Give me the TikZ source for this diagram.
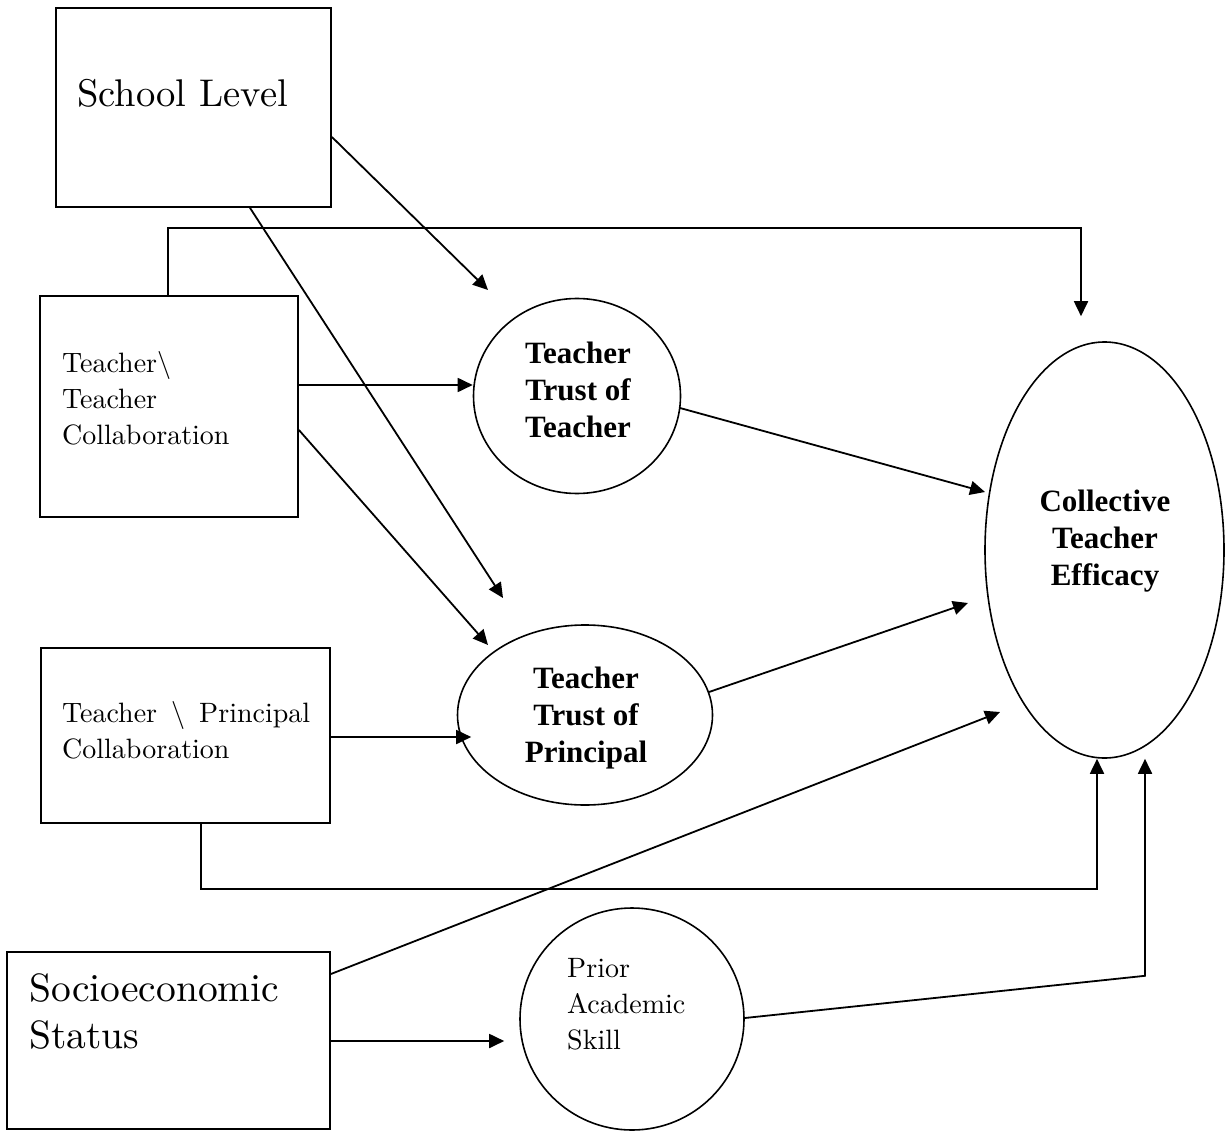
\documentclass[tikz,border=0pt]{standalone}
\usepackage{fontspec}
\newfontfamily\tnrfont{Liberation Serif}
\newfontfamily\gfont{lmroman10-regular.otf}
\usetikzlibrary{shapes.geometric,arrows.meta,calc}
\begin{document}
\begin{tikzpicture}[x=1pt,y=-1pt,
  box/.style={draw,line width=1.8pt,rectangle,inner sep=0pt},
  oval/.style={draw,line width=1.6pt,ellipse,inner sep=0pt},
  conn/.style={line width=1.8pt},
  arr/.style={conn,-{Triangle[length=15pt,width=14pt]}},
  gtxt/.style={inner sep=0pt,anchor=north west,align=left,font=\gfont\fontsize{28}{36.3}\selectfont},
  btxt/.style={inner sep=0pt,align=center,font=\tnrfont\bfseries\fontsize{31}{37.3}\selectfont},
]
\useasboundingbox (0,0) rectangle (1225,1131);

% boxes
\node[box,minimum width=275pt,minimum height=199pt] (sl) at (193.5,107.5) {};
\node[box,minimum width=258pt,minimum height=221pt] (tt) at (169,406.5) {};
\node[box,minimum width=289pt,minimum height=175pt] (tp) at (185.5,735.5) {};
\node[box,minimum width=323pt,minimum height=177pt] (ses) at (168.5,1040.5) {};

% ellipses
\node[oval,minimum width=207pt,minimum height=195pt] (ttt) at (577,396) {};
\node[oval,minimum width=255pt,minimum height=180pt] (ttp) at (585,715) {};
\node[oval,minimum width=239pt,minimum height=416pt] (cte) at (1104.5,550) {};
\node[oval,minimum width=224pt,minimum height=222pt] (pas) at (632,1019) {};

% texts
\node[gtxt,font=\gfont\fontsize{38.6}{46}\selectfont] (slT) at (77,79) {School Level};
\node[gtxt] (ttT) at (62,351) {Teacher\textbackslash\\Teacher\\Collaboration};
\node[gtxt,font=\gfont\fontsize{28}{36}\selectfont] (tpT) at (62,701) {\makebox[248pt][l]{Teacher\hfill\textbackslash\hfill Principal}\\Collaboration};
\node[gtxt,font=\gfont\fontsize{28}{36}\selectfont] (pasT) at (567,958) {Prior\\Academic\\Skill};
\node[gtxt,font=\gfont\fontsize{39.5}{47}\selectfont] (sesT) at (29,973) {Socioeconomic\\Status};
\node[btxt] (tttT) at (578,390) {Teacher\\Trust of\\Teacher};
\node[btxt] (ttpT) at (586,718) {Teacher\\Trust of\\Principal};
\node[btxt] (cteT) at (1105,541) {Collective\\Teacher\\Efficacy};

% connectors
\draw[arr] ([yshift=-29.5pt]sl.east) -- ($(ttt.center)+(-89,-106)$);
\draw[arr] ([xshift=56.5pt]sl.south) -- ($(ttp.center)+(-82,-117)$);
\draw[arr] ([xshift=-1pt]tt.north) -- ++(0,-67) -| ($(cte.north)+(-23.5,-25)$);
\draw[arr] ([yshift=21.5pt]tt.east) -- ($(ttt.west)+(0,-11)$);
\draw[arr] ([yshift=-23.5pt]tt.east) -- ($(ttp.center)+(-97,-70)$);
\draw[arr] ($(ttt.center)+(103,12)$) -- ($(cte.center)+(-119.5,-58)$);
\draw[arr] ($(ttp.center)+(124,-23)$) -- ($(cte.center)+(-136.5,53)$);
\draw[arr] ([yshift=-1.5pt]tp.east) -- ($(ttp.west)+(14.5,22)$);
\draw[arr] ([xshift=15.5pt]tp.south) -- ++(0,65) -| ($(cte.south)+(-7.5,0)$);
\draw[arr] ([yshift=66.5pt]ses.east) -- ($(cte.center)+(-104.5,162)$);
\draw[arr] ([yshift=-0.5pt]ses.east) -- ($(pas.west)+(-15,22)$);
\draw[arr] ($(pas.east)+(0,-1)$) -- ($(cte.south)+(40.5,217)$) -- ($(cte.south)+(40.5,0)$);
\end{tikzpicture}
\end{document}
